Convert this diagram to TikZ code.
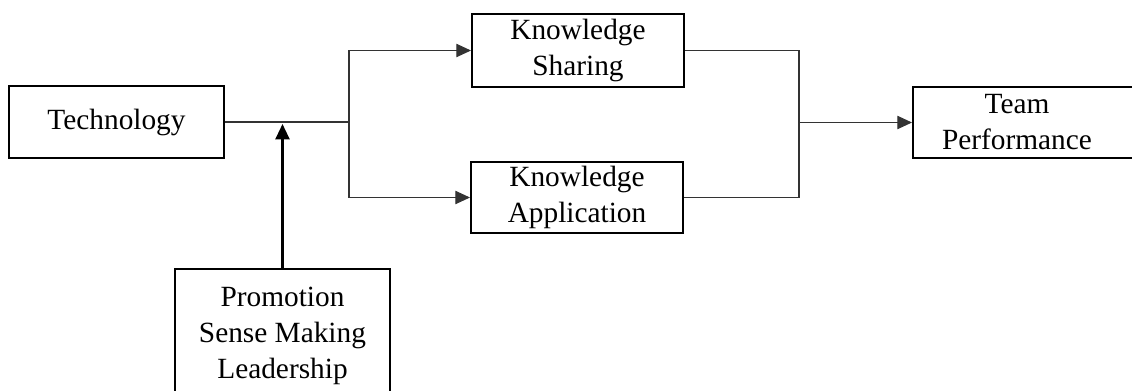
\documentclass[tikz,border=0pt]{standalone}
\usepackage{fontspec}
\setmainfont{Liberation Serif}
\usetikzlibrary{arrows.meta}
\begin{document}
\begin{tikzpicture}[x=0.75pt,y=-0.75pt,
  box/.style={draw=black,line width=1.5pt,inner sep=0pt,align=center,
    font=\fontsize{22pt}{27pt}\selectfont},
  conn/.style={draw=black!80,line width=0.8pt},
  tip/.style={-{Triangle[length=11pt,width=10pt]}},
  bigarrow/.style={draw=black,line width=1.6pt,-{Triangle[length=11.5pt,width=10.5pt]}}]
\useasboundingbox (0,0) rectangle (1132,390);
\node[box,minimum width=215*0.75pt,minimum height=72*0.75pt] (tech) at (116.5,122) {Technology};
\node[box,minimum width=212*0.75pt,minimum height=73*0.75pt] (ks) at (578,50.5) {Knowledge\\Sharing};
\node[box,minimum width=212*0.75pt,minimum height=71*0.75pt] (ka) at (577,197.5) {Knowledge\\Application};
\node[box,minimum width=230*0.75pt,minimum height=71*0.75pt,anchor=west] (tp) at (912,122.5)
  {Team\hspace*{16.5pt}\\Performance\hspace*{16.5pt}};
\node[box,minimum width=215*0.75pt,minimum height=133*0.75pt,anchor=north] (prom) at (282.5,268)
  {Promotion\\Sense Making\\Leadership};
\coordinate (j1) at (349,122);
\coordinate (j2) at (799,122.5);
\draw[conn] (tech.east) -- (j1);
\draw[conn,tip] (j1) |- (ks.west);
\draw[conn,tip] (j1) |- (ka.west);
\draw[conn] (ks.east) -| (j2);
\draw[conn] (ka.east) -| (j2);
\draw[conn,tip] (j2) -- (tp.west);
\draw[bigarrow,shorten >=1.5pt] (prom.north) -- (prom.north |- j1);
\end{tikzpicture}
\end{document}
